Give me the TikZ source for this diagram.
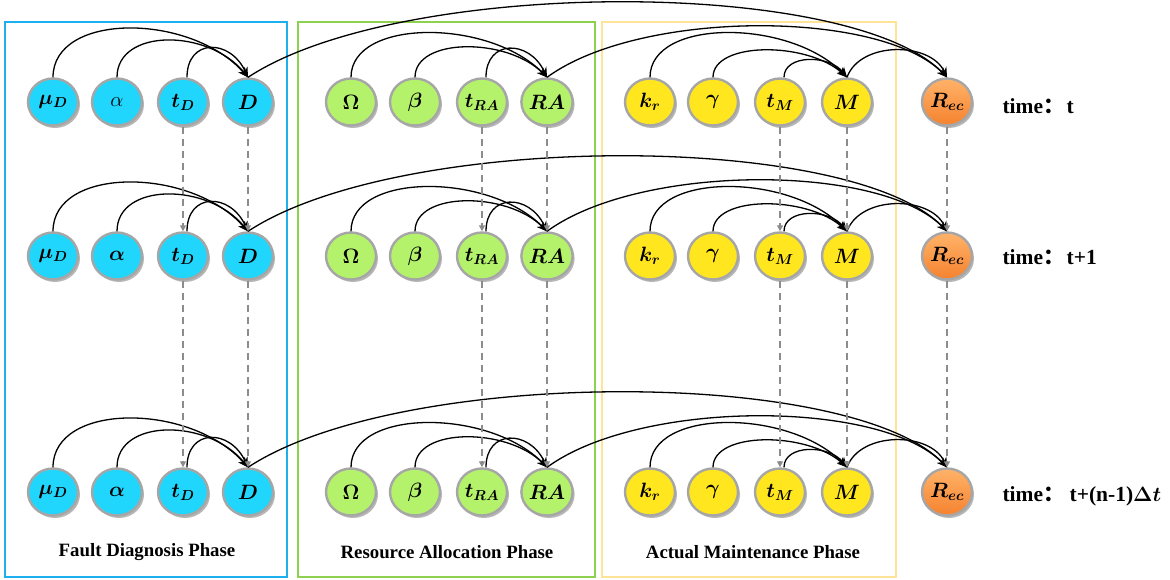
\documentclass[tikz,border=0pt]{standalone}
\usepackage{fontspec}
\setmainfont{Liberation Serif}
\newfontfamily\cjk{Noto Sans CJK SC}
\usetikzlibrary{shapes.geometric,shadows,calc,arrows.meta}

\definecolor{diagfill}{HTML}{20D6FC}
\definecolor{allocfill}{HTML}{B5F26C}
\definecolor{maintfill}{HTML}{FFE61E}
\definecolor{rectop}{HTML}{FFB36A}
\definecolor{recbot}{HTML}{F5822E}
\definecolor{rimgray}{HTML}{A6A6A6}
\definecolor{dashgray}{HTML}{8C8C8C}
\definecolor{diagbox}{HTML}{1CB0F0}
\definecolor{allocbox}{HTML}{8ED14E}
\definecolor{maintbox}{HTML}{FFE396}

\begin{document}
\begin{tikzpicture}[x=1pt,y=-1pt,
  var/.style={ellipse, minimum width=50pt, minimum height=47pt, inner sep=0pt,
    draw=rimgray, line width=2.4pt,
    font=\fontsize{21.5}{25}\selectfont\boldmath,
    drop shadow={shadow xshift=2pt, shadow yshift=-2.5pt, opacity=0.4, fill=black!70}},
  diag/.style={var, fill=diagfill},
  alloc/.style={var, fill=allocfill},
  maint/.style={var, fill=maintfill},
  rec/.style={var, top color=rectop, bottom color=recbot,
    font=\fontsize{20}{24}\selectfont\boldmath},
  plainmath/.style={font=\fontsize{21.5}{25}\selectfont},
  boldmath/.style={},
  linkline/.style={-{Stealth[length=10pt,width=8pt]}, line width=1.3pt, black},
  dep/.style={draw=dashgray, line width=1.5pt, dash pattern=on 7pt off 5pt,
    -{Triangle[length=6pt,width=6pt,fill=dashgray]}},
  phasebox/.style={line width=2.4pt},
  phase/.style={font=\bfseries\fontsize{18.8}{22}\selectfont},
  timelab/.style={anchor=base west, font=\bfseries\fontsize{21.5}{25}\selectfont\boldmath}
]
\useasboundingbox (0,0) rectangle (1170,580);

% phase frames
\draw[phasebox, diagbox]  (5,22)   rectangle (287,577);
\draw[phasebox, allocbox] (298,22) rectangle (595,577);
\draw[phasebox, maintbox] (602,22) rectangle (896,577);

\node[phase] (fdp) at (147,552) {Fault Diagnosis Phase};
\node[phase] (rap) at (447,552) {Resource Allocation Phase};
\node[phase] (amp) at (753,552) {Actual Maintenance Phase};

% time slices
\foreach \row/\yy/\alsty in {1/102/plainmath, 2/256/boldmath, 3/492/boldmath}{
  \node[diag]  (muD\row) at (53,\yy)  {$\mu_D$};
  \node[diag,\alsty] (al\row) at (117,\yy) {$\alpha$};
  \node[diag]  (tD\row)  at (183,\yy) {$t_D$};
  \node[diag]  (D\row)   at (248,\yy) {$D$};
  \node[alloc] (Om\row)  at (351,\yy) {$\Omega$};
  \node[alloc] (be\row)  at (415,\yy) {$\beta$};
  \node[alloc] (tRA\row) at (482,\yy) {$t_{RA}$};
  \node[alloc] (RA\row)  at (547,\yy) {$RA$};
  \node[maint] (kr\row)  at (650,\yy) {$k_r$};
  \node[maint] (ga\row)  at (713,\yy) {$\gamma$};
  \node[maint] (tM\row)  at (780,\yy) {$t_M$};
  \node[maint] (M\row)   at (847,\yy) {$M$};
  \node[rec]   (Rec\row) at (947,\yy) {$R_{ec}$};

  % source/target/start shift/out dx/height/in dx
  \foreach \src/\dst/\sx/\ox/\hh/\ix in {
      muD/D/0/0/65/58, al/D/0/0/49/40, tD/D/4/0/39/18,
      Om/RA/0/0/59/58, be/RA/0/0/40/40, tRA/RA/4/0/38/18,
      kr/M/0/0/59/58, ga/M/0/0/36/40, tM/M/4/0/23/18,
      D/Rec/0/152/100/97, RA/Rec/0/93/68/67, M/Rec/0/13/36/17}{
    \draw[linkline] ([xshift=\sx pt]\src\row.north)
      .. controls +(\ox,-\hh) and +(-\ix,-\hh) .. (\dst\row.north);
  }
}

% links between consecutive time slices
\foreach \aa/\bb in {1/2, 2/3}{
  \foreach \nn in {tD, D, tRA, RA, tM, M, Rec}{
    \draw[dep] (\nn\aa.south) -- (\nn\bb.north);
  }
}

\node[timelab] (time1) at (999,114) {time{\cjk ：}\hspace{2pt}t};
\node[timelab] (time2) at (999,264) {time{\cjk ：}\hspace{2pt}t+1};
\node[timelab] (time3) at (999,501) {time{\cjk ：}\hspace{5pt}t+(n-1)$\Delta t$};
\end{tikzpicture}
\end{document}
